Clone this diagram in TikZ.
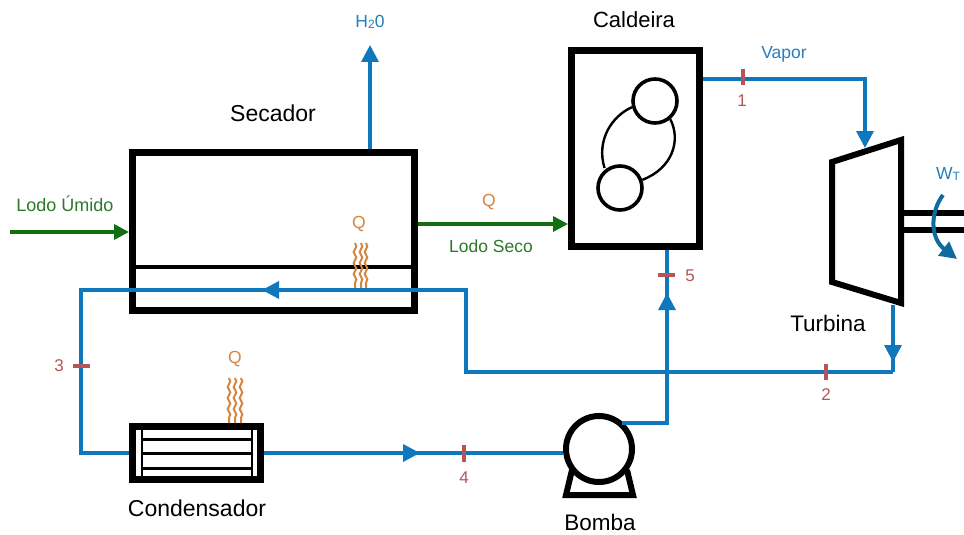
\documentclass[tikz,border=0pt]{standalone}
\usepackage{fontspec}
\setmainfont{Liberation Sans}
\usetikzlibrary{arrows.meta,decorations.pathmorphing}
\definecolor{pipeblue}{HTML}{0F77BB}
\definecolor{darkblue}{HTML}{0F6A9E}
\definecolor{labblue}{HTML}{2480BC}
\definecolor{sludge}{HTML}{116E11}
\definecolor{labgreen}{HTML}{2A7A2A}
\definecolor{heat}{HTML}{D6853F}
\definecolor{tickred}{HTML}{B5555A}
\tikzset{
  x=1pt,y=-1pt,
  equip/.style={draw=black,line width=6.6pt,fill=white,inner sep=0pt,minimum width=#1},
  pipe/.style={draw=pipeblue,line width=3.4pt},
  pipetip/.style={pipe,-{Triangle[length=17pt,width=17pt]}},
  sludgeline/.style={draw=sludge,line width=3.4pt,-{Triangle[length=15pt,width=15pt]}},
  thin line/.style={draw=black,line width=3.4pt},
  ticksty/.style={draw=tickred,line width=4pt},
  heatline/.style={draw=heat,line width=2pt,decorate,decoration={snake,amplitude=1.3pt,segment length=11pt}},
  title/.style={font=\fontsize{#1}{24}\selectfont,text=black,inner sep=0pt},
  lblblue/.style={font=\fontsize{17.5}{20}\selectfont,text=labblue,inner sep=0pt},
  lblgreen/.style={font=\fontsize{#1}{20}\selectfont,text=labgreen,inner sep=0pt},
  lblheat/.style={font=\fontsize{17.5}{20}\selectfont,text=heat,inner sep=0pt},
  lblred/.style={font=\fontsize{17}{20}\selectfont,text=tickred,inner sep=0pt},
}
\begin{document}
\begin{tikzpicture}
\useasboundingbox[fill=white] (0,0) rectangle (964,535);

% Equipment
\node[equip=282.4pt,minimum height=158.4pt] (sec) at (273.5,231.5) {};
\node[equip=128.4pt,minimum height=196.4pt] (cal) at (635.5,148.5) {};
\node[equip=128.4pt,minimum height=53.4pt] (con) at (196.5,453) {};

% Secador divider
\draw[thin line] (sec.west |- 0,267) coordinate (da) -- (sec.east |- 0,267) coordinate (db);

% Caldeira internals
\node[circle,draw=black,line width=3.6pt,fill=white,inner sep=0pt,minimum size=44pt] (drumA) at (655,101) {};
\node[circle,draw=black,line width=3.6pt,fill=white,inner sep=0pt,minimum size=44pt] (drumB) at (620,188) {};
\draw[black,line width=2.4pt] (drumA.195) .. controls (612,116) and (596,140) .. (604.5,168);
\draw[black,line width=2.4pt] (drumA.-50) .. controls (681,140) and (673,168) .. (drumB.20);

% Turbine
\coordinate (t1) at (832,162);
\coordinate (t2) at (901,140);
\coordinate (t3) at (901,303);
\coordinate (t4) at (832,282);
\draw[black,line width=6pt,fill=white,line join=miter] (t1) -- (t2) -- (t3) -- (t4) -- cycle;
\coordinate (s1a) at (901,213); \coordinate (s1b) at (964,213);
\coordinate (s2a) at (901,230); \coordinate (s2b) at (964,230);
\draw[black,line width=6pt] (s1a) -- (s1b);
\draw[black,line width=6pt] (s2a) -- (s2b);

% Pump base
\coordinate (bl) at (572,470); \coordinate (br) at (627,470);
\coordinate (bll) at (566,495); \coordinate (brr) at (633,495);
\draw[black,line width=6pt,line join=miter] (bl) -- (bll) -- (brr) -- (br);
\node[circle,draw=black,line width=6pt,fill=white,inner sep=0pt,minimum size=66pt] (pump) at (599,449) {};

% Condenser internals
\coordinate (cv1t) at (142,426); \coordinate (cv1b) at (142,480);
\coordinate (cv2t) at (252,426); \coordinate (cv2b) at (252,480);
\draw[black,line width=2.8pt] (cv1t) -- (cv1b);
\draw[black,line width=2.8pt] (cv2t) -- (cv2b);
\foreach \yy in {439,453,468} \draw[black,line width=3pt] (142,\yy) -- (252,\yy);

% Heat lines
\foreach \xx in {355,361,366} \draw[heatline] (\xx,243) -- (\xx,288);
\foreach \xx in {229,235,241} \draw[heatline] (\xx,378) -- (\xx,423);

% Named pipe corners
\coordinate (h2o) at (370,45);
\coordinate (v1) at (865,79);
\coordinate (tin) at (865,148);
\coordinate (tout) at (893,305);
\coordinate (tm) at (893,362);
\coordinate (c2) at (893,372);
\coordinate (c3) at (466,372);
\coordinate (c4) at (466,290);
\coordinate (am) at (262,290);
\coordinate (c5) at (81,290);
\coordinate (c6) at (81,453);
\coordinate (p4m) at (420,453);
\coordinate (c7) at (667,423);
\coordinate (pout) at (622,423);
\coordinate (p5m) at (667,293);

% Pipes
\draw[pipetip] (sec.north -| h2o) -- (h2o);
\draw[pipe] (cal.east |- v1) -- (v1) -- ++(0,40);
\draw[pipetip] (v1) -- (tin);
\draw[pipe] (tout) -- (c2);
\draw[pipetip] (tout) -- (tm);
\draw[pipe,line join=miter] (c2) -- (c3) -- (c4) -- (am);
\draw[pipetip] (c4) -- (am);
\draw[pipe,line join=miter] (am) -- (c5) -- (c6) -- (con.west |- c6);
\draw[pipe] (con.east |- c6) -- (pump.west |- c6);
\draw[pipetip] (con.east |- c6) -- (p4m);
\draw[pipe,line join=miter] (pout) -- (c7) -- (cal.south -| c7);
\draw[pipetip] (c7) -- (p5m);

% Sludge
\coordinate (lin) at (10,232);
\draw[sludgeline] (lin) -- (sec.west |- lin);
\coordinate (lout) at (567,224);
\draw[sludgeline] (sec.east |- lout) -- (cal.west |- lout);

% Work arrow
\coordinate (wa) at (943,195);
\coordinate (wb) at (957,259);
\draw[darkblue,line width=4pt,-{Triangle[length=17pt,width=17pt]}] (wa) .. controls (930,212) and (930,238) .. (wb);

% Ticks
\coordinate (k1) at (743,69); \coordinate (k1b) at (743,85);
\coordinate (k2) at (826,364); \coordinate (k2b) at (826,380);
\coordinate (k3) at (73,366); \coordinate (k3b) at (90,366);
\coordinate (k4) at (464,445); \coordinate (k4b) at (464,462);
\coordinate (k5) at (658,275); \coordinate (k5b) at (675,275);
\draw[ticksty] (k1) -- (k1b);
\draw[ticksty] (k2) -- (k2b);
\draw[ticksty] (k3) -- (k3b);
\draw[ticksty] (k4) -- (k4b);
\draw[ticksty] (k5) -- (k5b);

% Labels
\node[title=23] (tsec) at (273,113) {Secador};
\node[title=22] (tcal) at (634,20) {Caldeira};
\node[title=22.5] (ttur) at (828,323) {Turbina};
\node[title=23] (tcon) at (197,508) {Condensador};
\node[title=22.5] (tbom) at (600,522) {Bomba};
\node[lblblue] (lh) at (370,22) {H\raisebox{-1.5pt}{\fontsize{12}{13}\selectfont 2}0};
\node[lblblue] (lv) at (784,54) {Vapor};
\node[lblblue] (lw) at (948,174) {W\raisebox{-1.5pt}{\fontsize{12}{13}\selectfont T}};
\node[lblgreen=18] (lu) at (65,204) {Lodo Úmido};
\node[lblgreen=17.5] (ls) at (491,246) {Lodo Seco};
\node[lblheat] (q1) at (359,224) {Q};
\node[lblheat] (q2) at (489,202) {Q};
\node[lblheat] (q3) at (235,359) {Q};
\node[lblred] (n1) at (742,101) {1};
\node[lblred] (n2) at (826,395) {2};
\node[lblred] (n3) at (59,366) {3};
\node[lblred] (n4) at (464,478) {4};
\node[lblred] (n5) at (690,276) {5};
\end{tikzpicture}
\end{document}
